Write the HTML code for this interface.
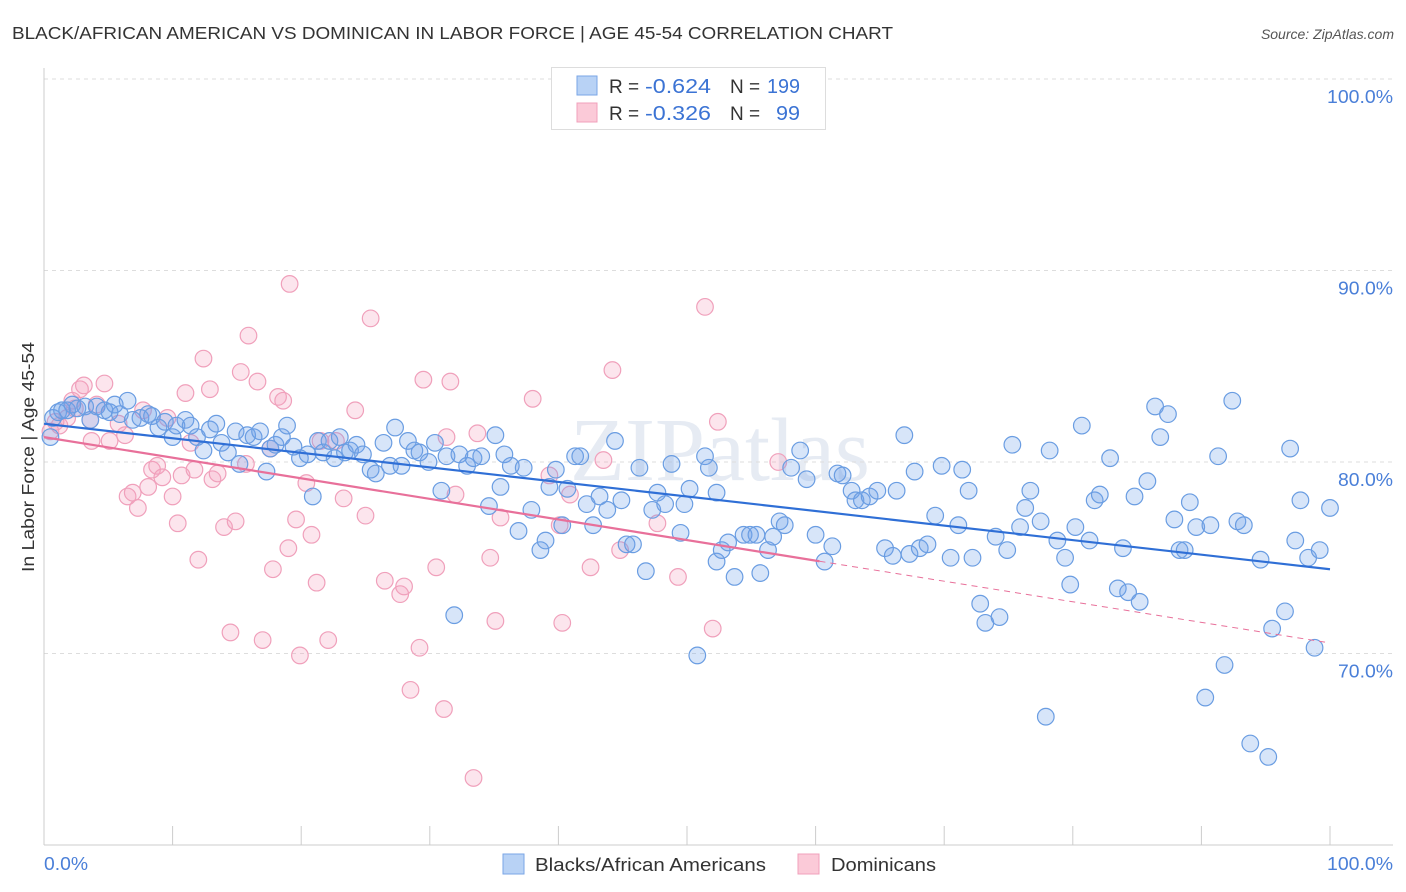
<!DOCTYPE html>
<html><head><meta charset="utf-8"><style>
body{margin:0;background:#fff;font-family:"Liberation Sans",sans-serif;}
svg{display:block}
</style></head><body>
<svg id="chart" width="1406" height="892">
<text x="12" y="39" font-size="17.5" fill="#333" textLength="881" lengthAdjust="spacingAndGlyphs">BLACK/AFRICAN AMERICAN VS DOMINICAN IN LABOR FORCE | AGE 45-54 CORRELATION CHART</text>
<text x="1394" y="39" font-size="14" fill="#555" font-style="italic" text-anchor="end">Source: ZipAtlas.com</text>
<text x="720" y="480" font-size="90" fill="#e6ebf3" text-anchor="middle" font-family="Liberation Serif">ZIPatlas</text>
<g id="grid"></g>
<g id="axes"></g>
<g id="pts"></g>
<g id="trend"></g>
<text transform="translate(34,457) rotate(-90)" font-size="17.5" fill="#333" text-anchor="middle" textLength="230" lengthAdjust="spacingAndGlyphs">In Labor Force | Age 45-54</text>
<g>
<rect x="551.5" y="67.5" width="274" height="62" fill="#fff" stroke="#ddd"/>
<rect x="577" y="76" width="20" height="19" fill="#b8d2f5" stroke="#7aa6e6"/>
<rect x="577" y="103" width="20" height="19" fill="#fbcad8" stroke="#f0a0bb"/>
<text x="609" y="93" font-size="19" fill="#333">R = </text>
<text x="645" y="93" font-size="20" fill="#3b73d4" textLength="66" lengthAdjust="spacingAndGlyphs">-0.624</text>
<text x="730" y="93" font-size="19" fill="#333">N = </text>
<text x="767" y="93" font-size="20" fill="#3b73d4" textLength="33" lengthAdjust="spacingAndGlyphs">199</text>
<text x="609" y="120" font-size="19" fill="#333">R = </text>
<text x="645" y="120" font-size="20" fill="#3b73d4" textLength="66" lengthAdjust="spacingAndGlyphs">-0.326</text>
<text x="730" y="120" font-size="19" fill="#333">N = </text>
<text x="776" y="120" font-size="20" fill="#3b73d4" textLength="24" lengthAdjust="spacingAndGlyphs">99</text>
</g>
<g>
<rect x="503" y="854" width="21" height="20" fill="#b8d2f5" stroke="#7aa6e6"/>
<text x="535" y="871" font-size="18.5" fill="#333" textLength="231" lengthAdjust="spacingAndGlyphs">Blacks/African Americans</text>
<rect x="798" y="854" width="21" height="20" fill="#fbcad8" stroke="#f0a0bb"/>
<text x="831" y="871" font-size="18.5" fill="#333" textLength="105" lengthAdjust="spacingAndGlyphs">Dominicans</text>
</g>
</svg>
<script>
const blueX=[0.5,0.7,1.1,1.4,1.8,2.2,2.6,3.2,3.6,4.1,4.7,5.1,5.5,5.9,6.5,6.9,7.5,8.1,8.4,8.9,9.4,10.0,10.3,11.0,11.4,11.9,12.4,12.9,13.4,13.8,14.3,14.9,15.2,15.8,16.3,16.8,17.3,17.6,18.0,18.5,18.9,19.4,19.9,20.5,20.9,21.3,21.7,22.2,22.6,23.0,23.4,23.8,24.3,24.8,25.4,25.8,26.4,26.9,27.3,27.8,28.3,28.8,29.2,29.9,30.4,30.9,31.3,31.9,32.3,32.9,33.4,34.0,34.6,35.1,35.5,35.8,36.3,36.9,37.3,37.9,38.6,39.0,39.3,39.8,40.3,40.7,41.3,41.7,42.2,42.7,43.2,43.8,44.4,44.9,45.3,45.8,46.3,46.8,47.3,47.7,48.3,48.8,49.5,49.8,50.2,50.8,51.4,51.7,52.3,52.3,52.7,53.2,53.7,54.4,54.9,55.4,55.7,56.3,56.7,57.2,57.6,58.1,58.8,59.3,60.0,60.7,61.3,61.7,62.1,62.8,63.1,63.6,64.2,64.8,65.4,66.0,66.3,66.9,67.3,67.7,68.1,68.7,69.3,69.8,70.5,71.1,71.4,71.9,72.2,72.8,73.2,74.0,74.3,74.9,75.3,75.9,76.3,76.7,77.5,77.9,78.2,78.8,79.4,79.8,80.2,80.7,81.3,81.7,82.1,82.9,83.5,83.9,84.3,84.8,85.2,85.8,86.4,86.8,87.4,87.9,88.3,88.7,89.1,89.6,90.3,90.7,91.3,91.8,92.4,92.8,93.3,93.8,94.6,95.2,95.5,96.5,96.9,97.3,97.7,98.3,98.8,99.2,100.0];
const blueY=[81.3,82.3,82.6,82.7,82.7,83.0,82.8,82.9,82.2,82.9,82.7,82.6,83.0,82.5,83.2,82.2,82.3,82.5,82.4,81.8,82.1,81.3,81.9,82.2,81.9,81.3,80.6,81.7,82.0,81.0,80.5,81.6,79.9,81.4,81.3,81.6,79.5,80.7,80.9,81.3,81.9,80.8,80.2,80.4,78.2,81.1,80.5,81.1,80.2,81.3,80.5,80.6,80.9,80.4,79.6,79.4,81.0,79.8,81.8,79.8,81.1,80.6,80.5,80.0,81.0,78.5,80.3,72.0,80.4,79.8,80.2,80.3,77.7,81.4,78.7,80.4,79.8,76.4,79.7,77.5,75.4,75.9,78.7,79.6,76.7,78.6,80.3,80.3,77.8,76.7,78.2,77.5,81.1,78.0,75.7,75.7,79.7,74.3,77.5,78.4,77.8,79.9,76.3,77.8,78.6,69.9,80.3,79.7,78.4,74.8,75.4,75.8,74.0,76.2,76.2,76.2,74.2,75.4,76.1,76.9,76.7,79.7,80.6,79.1,76.2,74.8,75.6,79.4,79.3,78.5,78.0,78.0,78.2,78.5,75.5,75.1,78.5,81.4,75.2,79.5,75.5,75.7,77.2,79.8,75.0,76.7,79.6,78.5,75.0,72.6,71.6,76.1,71.9,75.4,80.9,76.6,77.6,78.5,76.9,66.7,80.6,75.9,75.0,73.6,76.6,81.9,75.9,78.0,78.3,80.2,73.4,75.5,73.2,78.2,72.7,79.0,82.9,81.3,82.5,77.0,75.4,75.4,77.9,76.6,67.7,76.7,80.3,69.4,83.2,76.9,76.7,65.3,74.9,64.6,71.3,72.2,80.7,75.9,78.0,75.0,70.3,75.4,77.6];
const pinkX=[0.5,0.9,1.2,1.8,2.2,2.8,3.1,3.6,4.1,4.7,5.1,5.8,6.3,6.5,6.9,7.3,7.7,8.1,8.4,8.8,9.2,9.6,10.0,10.4,10.7,11.0,11.4,11.7,12.0,12.4,12.9,13.1,13.5,14.0,14.5,14.9,15.3,15.7,15.9,16.6,17.0,17.6,17.8,18.2,18.6,19.0,19.1,19.6,19.9,20.4,20.8,21.2,21.5,22.1,22.7,23.3,24.2,25.0,25.4,26.5,27.7,28.0,28.5,29.2,29.5,30.5,31.1,31.3,31.6,32.0,33.4,33.7,34.7,35.1,35.5,38.0,39.3,40.1,40.3,40.9,42.5,43.5,44.2,44.8,47.7,49.3,51.4,52.0,52.4,57.1,3.7,2.4];
const pinkY=[81.6,82.1,81.9,82.3,83.2,83.8,84.0,82.2,83.0,84.1,81.1,82.0,81.4,78.2,78.4,77.6,82.7,78.7,79.6,79.8,79.2,82.3,78.2,76.8,79.3,83.6,81.0,79.6,74.9,85.4,83.8,79.1,79.4,76.6,71.1,76.9,84.7,79.9,86.6,84.2,70.7,80.7,74.4,83.4,83.2,75.5,89.3,77.0,69.9,78.9,76.2,73.7,81.1,70.7,81.1,78.1,82.7,77.2,87.5,73.8,73.1,73.5,68.1,70.3,84.3,74.5,67.1,81.3,84.2,78.3,63.5,81.5,75.0,71.7,77.1,83.3,79.3,76.7,71.6,78.3,74.5,80.1,84.8,75.4,76.8,74.0,88.1,71.3,82.1,80.0,81.1,82.8];
const blueTrend=[82.0,74.4];
const pinkTrend=[81.3,70.55];
const pinkSolidEnd=60.3;
const yTicks=[100,90,80,70];
const xTickVals=[0,10,20,30,40,50,60,70,80,90,100];

const NS='http://www.w3.org/2000/svg';
const X0=44,X1=1330,YT=79,PPU=19.15;
const sx=v=>X0+(X1-X0)*v/100;
const sy=v=>YT+(100-v)*PPU;
function mk(tag,attrs,parent){const e=document.createElementNS(NS,tag);for(const k in attrs)e.setAttribute(k,attrs[k]);parent.appendChild(e);return e;}
const grid=document.getElementById('grid'),axes=document.getElementById('axes'),pts=document.getElementById('pts'),trend=document.getElementById('trend');
yTicks.forEach(v=>{
 const l=mk('line',{x1:X0,x2:1393,y1:sy(v),y2:sy(v),stroke:'#ddd','stroke-dasharray':'4,4'},grid);
 
 
 const s=v.toFixed(1)+'%';
 const t=mk('text',{x:1393,y:sy(v)+24,'font-size':18.5,fill:'#4a7fd8','text-anchor':'end',textLength:s.length*11,lengthAdjust:'spacingAndGlyphs'},axes);
 t.textContent=s;
 
 
});
const ya=mk('line',{x1:X0,x2:X0,y1:68,y2:845,stroke:'#ccc'},axes);


const xa=mk('line',{x1:X0,x2:1393,y1:845,y2:845,stroke:'#ccc'},axes);


xTickVals.forEach(v=>{
 const l=mk('line',{x1:sx(v),x2:sx(v),y1:826,y2:845,stroke:'#ccc'},axes);
 
 
});
[[0,'start'],[100,'end']].forEach(([v,a])=>{
 const s=v.toFixed(1)+'%';
 const t=mk('text',{x:v==0?44:1393,y:870,'font-size':18.5,fill:'#4a7fd8','text-anchor':a,textLength:s.length*11,lengthAdjust:'spacingAndGlyphs'},axes);
 t.textContent=s;
 
 
});
function dots(xs,ys,fill,stroke,name){
 xs.forEach((x,i)=>{
  const c=mk('circle',{cx:sx(x),cy:sy(ys[i]),r:8.3,fill:fill,stroke:stroke,'stroke-width':1.2},pts);
  
  
 });
}
dots(pinkX,pinkY,'rgba(244,160,190,0.28)','#f0a0bb','dominican-point');
dots(blueX,blueY,'rgba(110,160,235,0.28)','#6a9de2','black-point');
const lerp=(t,v)=>t[0]+(t[1]-t[0])*v/100;
const bl=mk('line',{x1:sx(0),y1:sy(lerp(blueTrend,0)),x2:sx(100),y2:sy(lerp(blueTrend,100)),stroke:'#2f6fd6','stroke-width':2.2},trend);


const pl=mk('line',{x1:sx(0),y1:sy(lerp(pinkTrend,0)),x2:sx(pinkSolidEnd),y2:sy(lerp(pinkTrend,pinkSolidEnd)),stroke:'#e8709a','stroke-width':2.2},trend);


const pd=mk('line',{x1:sx(pinkSolidEnd),y1:sy(lerp(pinkTrend,pinkSolidEnd)),x2:sx(100),y2:sy(lerp(pinkTrend,100)),stroke:'#e8709a','stroke-width':1,'stroke-dasharray':'6,5'},trend);


</script>
</body></html>
